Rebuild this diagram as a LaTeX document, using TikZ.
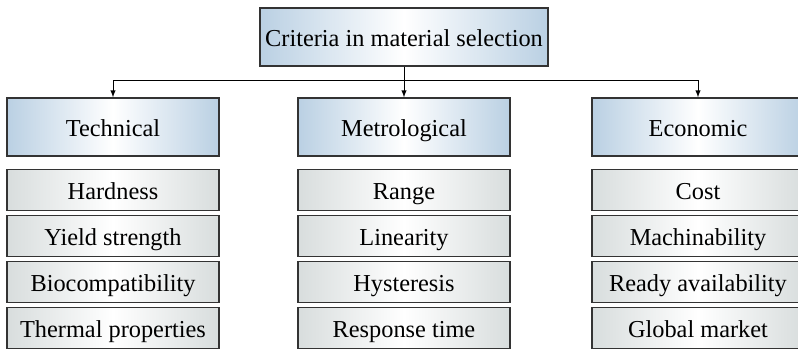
\documentclass[tikz,border=0pt]{standalone}
\usepackage{fontspec}
\setmainfont{Liberation Serif}
\usetikzlibrary{arrows}

\definecolor{headblue}{HTML}{BAD0E3}
\definecolor{itemgray}{HTML}{D8DDDD}
\definecolor{boxline}{HTML}{333333}

\begin{document}
\begin{tikzpicture}[x=0.025cm,y=-0.025cm,
	base_node/.style={rectangle,draw=boxline,line width=1pt,inner sep=0pt,text height=17pt,text depth=3pt,font=\fontsize{17.3}{20}\selectfont},
	crit_node/.style={base_node,left color=headblue,right color=headblue,middle color=white,minimum width=7.2cm,minimum height=1.45cm},
	cat_node/.style={base_node,left color=headblue,right color=headblue,middle color=white,minimum width=5.3cm,minimum height=1.45cm},
	item_node/.style={base_node,left color=itemgray,right color=itemgray,middle color=white,minimum width=5.3cm,minimum height=1.025cm}]
		\useasboundingbox (0,0) rectangle (798,349);

		\node[crit_node] (crit) at (404,37) {Criteria in material selection};

		\node[cat_node] (tech) at (113,127) {Technical};
		\node[cat_node] (metro) at (404,127) {Metrological};
		\node[cat_node] (econ) at (698,127) {Economic};

		\node[item_node] (t1) at (113,190) {Hardness};
		\node[item_node] (t2) at (113,236) {Yield strength};
		\node[item_node] (t3) at (113,282) {Biocompatibility};
		\node[item_node] (t4) at (113,328) {Thermal properties};

		\node[item_node] (m1) at (404,190) {Range};
		\node[item_node] (m2) at (404,236) {Linearity};
		\node[item_node] (m3) at (404,282) {Hysteresis};
		\node[item_node] (m4) at (404,328) {Response time};

		\node[item_node] (e1) at (698,190) {Cost};
		\node[item_node] (e2) at (698,236) {Machinability};
		\node[item_node] (e3) at (698,282) {Ready availability};
		\node[item_node] (e4) at (698,328) {Global market};

		\coordinate (bus_l) at (113,80);
		\coordinate (bus_m) at (404,80);
		\coordinate (bus_r) at (698,80);

		\draw[line width=0.7pt] (crit) -- (bus_m);
		\draw[line width=0.7pt] (bus_l) -- (bus_r);
		\draw[line width=0.7pt,-latex] (bus_l) -- (tech);
		\draw[line width=0.7pt,-latex] (bus_m) -- (metro);
		\draw[line width=0.7pt,-latex] (bus_r) -- (econ);
		\end{tikzpicture}
\end{document}
